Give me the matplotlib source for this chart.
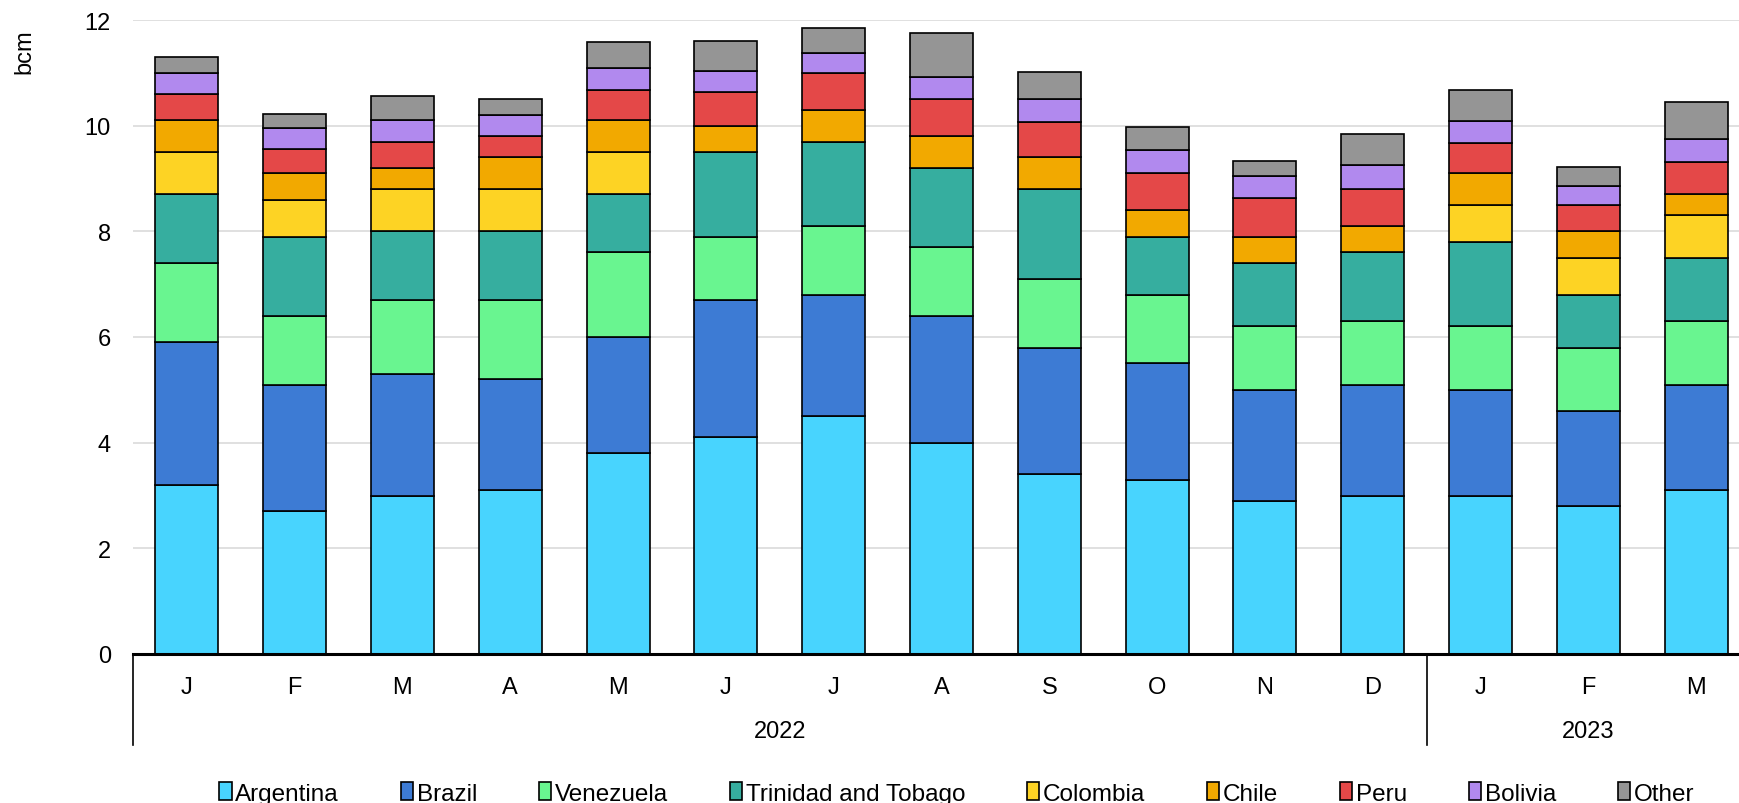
import matplotlib.pyplot as plt
import matplotlib.transforms as mtransforms
import numpy as np

plt.rcParams['font.family'] = ['Liberation Sans', 'DejaVu Sans']

months = ["J", "F", "M", "A", "M", "J", "J", "A", "S", "O", "N", "D", "J", "F", "M"]
years = ["2022", "2023"]
year_counts = [12, 3]

argentina = [3.2, 2.7, 3.0, 3.1, 3.8, 4.1, 4.5, 4.0, 3.4, 3.3, 2.9, 3.0, 3.0, 2.8, 3.1]
brazil = [2.7, 2.4, 2.3, 2.1, 2.2, 2.6, 2.3, 2.4, 2.4, 2.2, 2.1, 2.1, 2.0, 1.8, 2.0]
venezuela = [1.5, 1.3, 1.4, 1.5, 1.6, 1.2, 1.3, 1.3, 1.3, 1.3, 1.2, 1.2, 1.2, 1.2, 1.2]
trinidad = [1.3, 1.5, 1.3, 1.3, 1.1, 1.6, 1.6, 1.5, 1.7, 1.1, 1.2, 1.3, 1.6, 1.0, 1.2]
colombia = [0.8, 0.7, 0.8, 0.8, 0.8, 0.0, 0.0, 0.0, 0.0, 0.0, 0.0, 0.0, 0.7, 0.7, 0.8]
chile = [0.6, 0.5, 0.4, 0.6, 0.6, 0.5, 0.6, 0.6, 0.6, 0.5, 0.5, 0.5, 0.6, 0.5, 0.4]
peru = [0.5, 0.45, 0.5, 0.4, 0.57, 0.63, 0.7, 0.7, 0.67, 0.7, 0.73, 0.7, 0.58, 0.5, 0.62]
bolivia = [0.4, 0.4, 0.4, 0.4, 0.43, 0.4, 0.37, 0.42, 0.43, 0.43, 0.42, 0.45, 0.41, 0.35, 0.42]
other = [0.3, 0.28, 0.47, 0.3, 0.48, 0.57, 0.48, 0.83, 0.51, 0.45, 0.28, 0.6, 0.58, 0.37, 0.71]

series = [
    ("Argentina", argentina, "#48D4FE"),
    ("Brazil", brazil, "#3D7BD4"),
    ("Venezuela", venezuela, "#69F590"),
    ("Trinidad and Tobago", trinidad, "#36AE9F"),
    ("Colombia", colombia, "#FDD324"),
    ("Chile", chile, "#F2A900"),
    ("Peru", peru, "#E44848"),
    ("Bolivia", bolivia, "#B189EE"),
    ("Other", other, "#959595"),
]

fig = plt.figure(figsize=(17.4, 8.04), dpi=100)
ax = fig.add_axes([133 / 1740, 149 / 804, 1617 / 1740, 634 / 804])

x = np.arange(len(months))
bottom = np.zeros(len(months))
for name, vals, col in series:
    vals = np.array(vals)
    ax.bar(x, vals, 0.585, bottom=bottom, color=col, edgecolor="black",
           linewidth=1.2, label=name, zorder=3)
    bottom += vals

ax.set_xlim(-0.5, len(months) - 0.5)
ax.set_ylim(0, 12)
ax.set_yticks(range(0, 13, 2))
ax.tick_params(axis="y", length=0, pad=16, labelsize=17)
ax.set_xticks([])
ax.grid(axis="y", color="#dddddd", linewidth=1.3, zorder=0)
for s in ["top", "right", "left"]:
    ax.spines[s].set_visible(False)
ax.spines["bottom"].set_linewidth(2.2)
ax.spines["bottom"].set_zorder(5)

trans = mtransforms.blended_transform_factory(ax.transData, ax.transAxes)
for i, m in enumerate(months):
    ax.text(i, -0.052, m, transform=trans, ha="center", va="center", fontsize=17)

start = 0
for yr, n in zip(years, year_counts):
    ax.text(start + (n - 1) / 2, -0.1215, yr, transform=trans, ha="center",
            va="center", fontsize=17)
    ax.plot([start - 0.5, start - 0.5], [0, -0.1435], transform=trans,
            color="black", linewidth=1.2, clip_on=False)
    start += n
ax.plot([start - 0.5, start - 0.5], [0, -0.1435], transform=trans,
        color="black", linewidth=1.2, clip_on=False)

fig.text(24 / 1740, 1 - 52 / 804, "bcm", rotation=90, ha="center", va="center",
         fontsize=17)

fig.legend(loc="center", bbox_to_anchor=(0.55, 0.012), ncol=9, frameon=False,
           fontsize=17.5, handlelength=0.5, handleheight=0.75, handletextpad=0.15,
           columnspacing=2.55)

fig.savefig("out.png", dpi=100)
